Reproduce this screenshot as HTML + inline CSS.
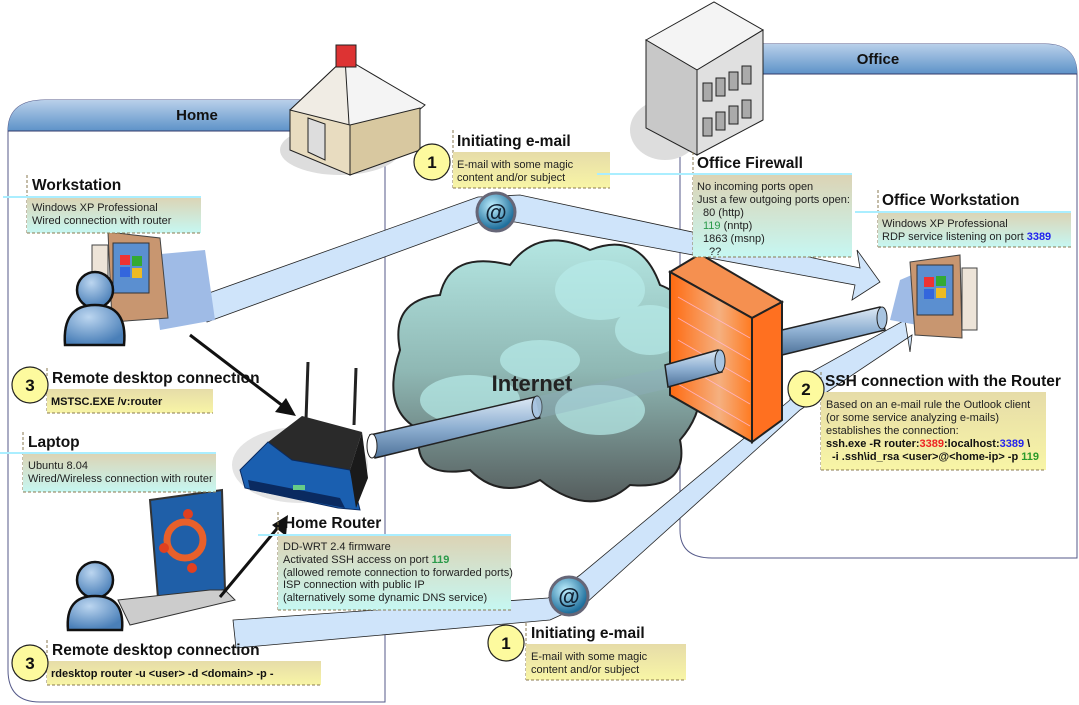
<!DOCTYPE html>
<html><head><meta charset="utf-8"><style>
html,body{margin:0;padding:0;background:#fff}
svg{display:block;font-family:"Liberation Sans",sans-serif}
.t{font-weight:bold;font-size:15.5px;fill:#111}
.s{font-size:11px;fill:#222}
.b{font-size:11px;font-weight:bold;fill:#111}
</style></head><body>
<svg width="1079" height="705" viewBox="0 0 1079 705" xmlns="http://www.w3.org/2000/svg">
<defs>
<linearGradient id="hdr" x1="0" y1="0" x2="0" y2="1"><stop offset="0" stop-color="#b9d0ea"/><stop offset="1" stop-color="#5d92c8"/></linearGradient>
<linearGradient id="box" x1="0" y1="0" x2="0" y2="1"><stop offset="0" stop-color="#dcd3b4"/><stop offset="1" stop-color="#c6f7f2"/></linearGradient>
<linearGradient id="ybox" x1="0" y1="0" x2="0" y2="1"><stop offset="0" stop-color="#e6dca8"/><stop offset="1" stop-color="#f8f5a6"/></linearGradient>
<linearGradient id="tube" x1="0" y1="0" x2="0" y2="1"><stop offset="0" stop-color="#dde9f5"/><stop offset="0.5" stop-color="#8fb0d2"/><stop offset="1" stop-color="#4f739a"/></linearGradient>
<linearGradient id="cloud" x1="0" y1="0" x2="0" y2="1"><stop offset="0" stop-color="#b4e6e2"/><stop offset="0.5" stop-color="#8fb8b4"/><stop offset="1" stop-color="#555d5d"/></linearGradient>
<radialGradient id="at" cx="0.4" cy="0.35" r="0.6"><stop offset="0" stop-color="#bff0ff"/><stop offset="1" stop-color="#1f6f9c"/></radialGradient>
<linearGradient id="fw" x1="0" y1="0" x2="1" y2="0"><stop offset="0" stop-color="#ff6a10"/><stop offset="0.6" stop-color="#f5b080"/><stop offset="1" stop-color="#ff7a20"/></linearGradient>
<radialGradient id="person" cx="0.4" cy="0.3" r="0.7"><stop offset="0" stop-color="#bcd6f0"/><stop offset="1" stop-color="#4a7fb8"/></radialGradient>
</defs>

<!-- containers -->
<path d="M8,131 L8,670 Q8,702 40,702 L385,702 L385,100 L45,100 Q8,100 8,131" fill="#fff" stroke="#555a8a" stroke-width="1"/>
<path d="M8,131 Q8,100 45,100 L385,100 L385,131 Z" fill="url(#hdr)"/>
<line x1="8" y1="131" x2="385" y2="131" stroke="#333a6a"/>
<text x="197" y="120" text-anchor="middle" font-weight="bold" font-size="15" fill="#111">Home</text>

<path d="M680,530 L680,44 L1045,44 Q1077,44 1077,75 L1077,558 L712,558 Q680,558 680,530" fill="#fff" stroke="#555a8a"/>
<path d="M680,74 L680,44 L1045,44 Q1077,44 1077,74 Z" fill="url(#hdr)"/>
<line x1="680" y1="74" x2="1077" y2="74" stroke="#333a6a"/>
<text x="878" y="64" text-anchor="middle" font-weight="bold" font-size="15" fill="#111">Office</text>

<!-- house -->
<ellipse cx="340" cy="150" rx="60" ry="25" fill="#ddd"/>
<polygon points="290,110 345,58 425,105 360,160" fill="#f4f4f4" stroke="#222"/>
<polygon points="290,110 345,58 350,140 300,135" fill="#f0ece4" stroke="#222"/>
<polygon points="290,110 300,140 355,170 350,130" fill="#e8dcc0" stroke="#222"/>
<polygon points="290,110 290,150 350,175 350,125" fill="#e8dcc0" stroke="#222"/>
<polygon points="350,125 420,108 420,150 350,175" fill="#d8c8a0" stroke="#222"/>
<polygon points="308,118 325,124 325,160 308,152" fill="#ddd" stroke="#222"/>
<rect x="336" y="45" width="20" height="22" fill="#d33" stroke="#222"/>

<!-- office building -->
<ellipse cx="665" cy="130" rx="35" ry="30" fill="#ddd"/>
<polygon points="646,40 714,2 763,30 697,70" fill="#f4f4f4" stroke="#222"/>
<polygon points="646,40 697,70 697,155 646,128" fill="#c8c8c8" stroke="#222"/>
<polygon points="697,70 763,30 763,120 697,155" fill="#e0e0e0" stroke="#222"/>
<g fill="#aaa" stroke="#222">
<rect x="703" y="83" width="9" height="18"/><rect x="716" y="78" width="9" height="18"/><rect x="729" y="72" width="9" height="18"/><rect x="742" y="66" width="9" height="18"/>
<rect x="703" y="118" width="9" height="18"/><rect x="716" y="112" width="9" height="18"/><rect x="729" y="106" width="9" height="18"/><rect x="742" y="100" width="9" height="18"/>
</g>

<!-- email bands -->
<polygon points="195,298 478,197 520,195 860,268 857,250 880,282 852,300 855,285 515,222 480,222 207,322" fill="#cfe4fa" stroke="#222" stroke-width="0.8"/>
<polygon points="233,620 548,598 580,575 790,400 790,384 905,320 910,352 912,335 800,410 585,604 550,620 236,648" fill="#cfe4fa" stroke="#222" stroke-width="0.8"/>

<!-- cloud -->
<path d="M400,350 Q390,300 440,295 Q450,250 510,265 Q540,225 590,250 Q640,230 660,285 Q700,300 690,350 Q715,400 680,440 Q690,490 630,485 Q590,520 540,480 Q500,500 470,470 Q410,480 420,430 Q380,410 400,350 Z" fill="url(#cloud)" stroke="#222" stroke-width="2"/>
<g fill="#b8ecea" opacity="0.7">
<ellipse cx="600" cy="290" rx="45" ry="30"/><ellipse cx="650" cy="330" rx="35" ry="25"/><ellipse cx="470" cy="400" rx="50" ry="25"/><ellipse cx="600" cy="410" rx="45" ry="25"/><ellipse cx="540" cy="360" rx="40" ry="20"/>
</g>
<text x="532" y="391" text-anchor="middle" font-weight="bold" font-size="22" fill="#222">Internet</text>

<!-- tube router->cloud -->
<polygon points="370,435 535,397 540,418 375,458" fill="url(#tube)" stroke="#222" stroke-width="1.5"/>
<ellipse cx="537" cy="407" rx="5" ry="11" fill="#a8c4e0" stroke="#222"/>
<polygon points="535,397 700,360 705,380 540,418" fill="#8fb0c0" opacity="0.35"/>
<ellipse cx="372" cy="446" rx="5" ry="12" fill="#fff" stroke="#222"/>

<!-- firewall -->
<polygon points="670,272 700,254 782,302 752,318" fill="#f59050" stroke="#222" stroke-width="2"/>
<polygon points="670,272 752,318 752,442 670,395" fill="url(#fw)" stroke="#222" stroke-width="2"/>
<polygon points="752,318 782,302 782,420 752,442" fill="#ff7020" stroke="#222" stroke-width="2"/>
<g stroke="#fbd" stroke-width="0.8" opacity="0.8">
<line x1="678" y1="297" x2="750" y2="338"/><line x1="678" y1="318" x2="750" y2="360"/><line x1="678" y1="340" x2="750" y2="382"/><line x1="678" y1="362" x2="750" y2="404"/><line x1="678" y1="384" x2="750" y2="426"/>
</g>
<polygon points="665,365 718,350 722,372 668,387" fill="url(#tube)" stroke="#222" stroke-width="1.5"/>
<ellipse cx="720" cy="361" rx="5" ry="11" fill="#a8c4e0" stroke="#222"/>
<polygon points="782,330 880,307 885,330 782,355" fill="url(#tube)" stroke="#222" stroke-width="1.5"/>
<ellipse cx="882" cy="318" rx="5" ry="11" fill="#a8c4e0" stroke="#222"/>

<!-- @ icons -->
<circle cx="496" cy="212" r="19" fill="url(#at)" stroke="#667" stroke-width="3"/>
<text x="496" y="220" text-anchor="middle" font-size="22" font-weight="bold" fill="#123">@</text>
<circle cx="569" cy="596" r="19" fill="url(#at)" stroke="#667" stroke-width="3"/>
<text x="569" y="604" text-anchor="middle" font-size="22" font-weight="bold" fill="#123">@</text>

<!-- workstation home -->
<path d="M150,255 L205,250 L215,320 L160,330 Z" fill="#9fbbe6"/>
<rect x="92" y="245" width="16" height="55" fill="#ede4d8" stroke="#444"/>
<path d="M108,232 L160,238 L168,318 L112,322 Z" fill="#c89670" stroke="#444"/>
<rect x="113" y="243" width="36" height="50" fill="#5b8fd0" stroke="#333"/>
<rect x="120" y="255" width="10" height="10" fill="#e33"/><rect x="132" y="256" width="10" height="10" fill="#3a3"/><rect x="120" y="267" width="10" height="10" fill="#36d"/><rect x="132" y="268" width="10" height="10" fill="#eb2"/>
<circle cx="95" cy="290" r="18" fill="url(#person)" stroke="#111" stroke-width="2.5"/>
<path d="M65,345 Q62,305 95,305 Q128,305 124,345 Z" fill="url(#person)" stroke="#111" stroke-width="2.5"/>

<!-- office workstation -->
<path d="M900,280 L935,265 L945,330 L890,320 Z" fill="#9fbbe6"/>
<path d="M910,262 L960,255 L962,338 L915,335 Z" fill="#c89670" stroke="#444"/>
<rect x="917" y="265" width="36" height="50" fill="#5b8fd0" stroke="#333"/>
<rect x="924" y="277" width="10" height="10" fill="#e33"/><rect x="936" y="276" width="10" height="10" fill="#3a3"/><rect x="924" y="289" width="10" height="10" fill="#36d"/><rect x="936" y="288" width="10" height="10" fill="#eb2"/>
<rect x="962" y="268" width="15" height="62" fill="#ede4d8" stroke="#444"/>

<!-- router -->
<line x1="308" y1="362" x2="306" y2="420" stroke="#222" stroke-width="3"/>
<line x1="356" y1="368" x2="354" y2="425" stroke="#222" stroke-width="3"/>
<ellipse cx="300" cy="465" rx="68" ry="38" fill="#e4e4e4"/>
<polygon points="268,442 302,416 362,432 350,470 292,460" fill="#2a2a2a"/>
<polygon points="240,470 268,442 292,460 350,470 360,510 338,508 245,488" fill="#1a5fb0" stroke="#0a2a60"/>
<polygon points="248,480 340,498 345,508 250,490" fill="#0a2a60"/>
<polygon points="350,470 362,432 368,478 356,508" fill="#1a1a1a"/>
<rect x="293" y="485" width="12" height="5" fill="#6c8"/>

<!-- laptop -->
<polygon points="150,500 222,490 225,590 158,598" fill="#1f5fa8" stroke="#333" stroke-width="2"/>
<circle cx="185" cy="540" r="18" fill="none" stroke="#e8602a" stroke-width="7"/>
<circle cx="188" cy="514" r="5" fill="#e04020"/><circle cx="164" cy="548" r="5" fill="#e04020"/><circle cx="192" cy="568" r="5" fill="#e04020"/>
<polygon points="118,600 210,590 225,590 235,600 130,625" fill="#ccc" stroke="#333"/>
<circle cx="95" cy="580" r="18" fill="url(#person)" stroke="#111" stroke-width="2.5"/>
<path d="M68,630 Q65,596 95,596 Q125,596 122,630 Z" fill="url(#person)" stroke="#111" stroke-width="2.5"/>

<!-- black arrows -->
<line x1="190" y1="335" x2="283" y2="406" stroke="#111" stroke-width="3"/>
<polygon points="296,416 275,412 286,398" fill="#111"/>
<line x1="220" y1="597" x2="280" y2="525" stroke="#111" stroke-width="3"/>
<polygon points="288,515 286,536 272,525" fill="#111"/>

<!-- text boxes -->
<g>
<line x1="27" y1="175" x2="27" y2="233" stroke="#8a7a50" stroke-dasharray="3,2"/>
<text x="32" y="190" class="t">Workstation</text>
<rect x="27" y="197" width="174" height="36" fill="url(#box)"/>
<line x1="3" y1="197" x2="201" y2="197" stroke="#aef" stroke-width="2"/>
<line x1="27" y1="233" x2="201" y2="233" stroke="#8a7a50" stroke-dasharray="3,2"/>
<text x="32" y="211" class="s">Windows XP Professional</text><text x="32" y="224" class="s">Wired connection with router</text>
</g>
<g>
<line x1="453" y1="130" x2="453" y2="188" stroke="#8a7a50" stroke-dasharray="3,2"/>
<text x="457" y="146" class="t">Initiating e-mail</text>
<rect x="453" y="152" width="157" height="36" fill="url(#ybox)"/>
<line x1="453" y1="188" x2="610" y2="188" stroke="#8a7a50" stroke-dasharray="3,2"/>
<text x="457" y="168" class="s">E-mail with some magic</text><text x="457" y="181" class="s">content and/or subject</text>
</g>
<g>
<line x1="693" y1="152" x2="693" y2="257" stroke="#8a7a50" stroke-dasharray="3,2"/>
<text x="697" y="168" class="t">Office Firewall</text>
<rect x="693" y="174" width="159" height="83" fill="url(#box)"/>
<line x1="597" y1="174" x2="852" y2="174" stroke="#aef" stroke-width="2"/>
<line x1="693" y1="257" x2="852" y2="257" stroke="#8a7a50" stroke-dasharray="3,2"/>
<text x="697" y="190" class="s">No incoming ports open</text><text x="697" y="203" class="s">Just a few outgoing ports open:</text>
<text x="703" y="216" class="s">80 (http)</text><text x="703" y="229" class="s"><tspan fill="#2a9a4a">119</tspan> (nntp)</text><text x="703" y="242" class="s">1863 (msnp)</text><text x="709" y="255" class="s">??</text>
</g>
<g>
<line x1="878" y1="190" x2="878" y2="247" stroke="#8a7a50" stroke-dasharray="3,2"/>
<text x="882" y="205" class="t">Office Workstation</text>
<rect x="878" y="212" width="193" height="35" fill="url(#box)"/>
<line x1="855" y1="212" x2="1071" y2="212" stroke="#aef" stroke-width="2"/>
<line x1="878" y1="247" x2="1071" y2="247" stroke="#8a7a50" stroke-dasharray="3,2"/>
<text x="882" y="227" class="s">Windows XP Professional</text><text x="882" y="240" class="s">RDP service listening on port <tspan fill="#22e" font-weight="bold">3389</tspan></text>
</g>
<g>
<line x1="47" y1="368" x2="47" y2="413" stroke="#8a7a50" stroke-dasharray="3,2"/>
<text x="52" y="383" class="t">Remote desktop connection</text>
<rect x="47" y="389" width="166" height="24" fill="url(#ybox)"/>
<line x1="47" y1="413" x2="213" y2="413" stroke="#8a7a50" stroke-dasharray="3,2"/>
<text x="51" y="405" class="b">MSTSC.EXE /v:router</text>
</g>
<g>
<line x1="23" y1="432" x2="23" y2="492" stroke="#8a7a50" stroke-dasharray="3,2"/>
<text x="28" y="447" class="t">Laptop</text>
<rect x="23" y="453" width="193" height="39" fill="url(#box)"/>
<line x1="0" y1="453" x2="216" y2="453" stroke="#aef" stroke-width="2"/>
<line x1="23" y1="492" x2="216" y2="492" stroke="#8a7a50" stroke-dasharray="3,2"/>
<text x="28" y="469" class="s">Ubuntu 8.04</text><text x="28" y="482" class="s">Wired/Wireless connection with router</text>
</g>
<g>
<line x1="278" y1="512" x2="278" y2="610" stroke="#8a7a50" stroke-dasharray="3,2"/>
<text x="284" y="528" class="t">Home Router</text>
<rect x="278" y="535" width="233" height="75" fill="url(#box)"/>
<line x1="258" y1="535" x2="511" y2="535" stroke="#aef" stroke-width="2"/>
<line x1="278" y1="610" x2="511" y2="610" stroke="#8a7a50" stroke-dasharray="3,2"/>
<text x="283" y="550" class="s">DD-WRT 2.4 firmware</text><text x="283" y="563" class="s">Activated SSH access on port <tspan fill="#2a9a4a" font-weight="bold">119</tspan></text>
<text x="283" y="576" class="s">(allowed remote connection to forwarded ports)</text><text x="283" y="588" class="s">ISP connection with public IP</text><text x="283" y="601" class="s">(alternatively some dynamic DNS service)</text>
</g>
<g>
<line x1="821" y1="372" x2="821" y2="470" stroke="#8a7a50" stroke-dasharray="3,2"/>
<text x="825" y="386" class="t">SSH connection with the Router</text>
<rect x="821" y="392" width="225" height="78" fill="url(#ybox)"/>
<line x1="821" y1="470" x2="1046" y2="470" stroke="#8a7a50" stroke-dasharray="3,2"/>
<text x="826" y="408" class="s">Based on an e-mail rule the Outlook client</text><text x="826" y="421" class="s">(or some service analyzing e-mails)</text><text x="826" y="434" class="s">establishes the connection:</text>
<text x="826" y="447" class="b">ssh.exe -R router:<tspan fill="#e22">3389</tspan>:localhost:<tspan fill="#22e">3389</tspan> \</text>
<text x="832" y="460" class="b">-i .ssh\id_rsa &lt;user&gt;@&lt;home-ip&gt; -p <tspan fill="#2a9a2a">119</tspan></text>
</g>
<g>
<line x1="47" y1="640" x2="47" y2="685" stroke="#8a7a50" stroke-dasharray="3,2"/>
<text x="52" y="655" class="t">Remote desktop connection</text>
<rect x="47" y="661" width="274" height="24" fill="url(#ybox)"/>
<line x1="47" y1="685" x2="321" y2="685" stroke="#8a7a50" stroke-dasharray="3,2"/>
<text x="51" y="677" class="b">rdesktop router -u &lt;user&gt; -d &lt;domain&gt; -p -</text>
</g>
<g>
<line x1="526" y1="623" x2="526" y2="680" stroke="#8a7a50" stroke-dasharray="3,2"/>
<text x="531" y="638" class="t">Initiating e-mail</text>
<rect x="526" y="644" width="160" height="36" fill="url(#ybox)"/>
<line x1="526" y1="680" x2="686" y2="680" stroke="#8a7a50" stroke-dasharray="3,2"/>
<text x="531" y="660" class="s">E-mail with some magic</text><text x="531" y="673" class="s">content and/or subject</text>
</g>

<!-- number circles -->
<g stroke="#222" stroke-width="1.2" fill="#fdfa9e">
<circle cx="432" cy="162" r="18"/><circle cx="30" cy="385" r="18"/><circle cx="806" cy="389" r="18"/><circle cx="30" cy="663" r="18"/><circle cx="506" cy="643" r="18"/>
</g>
<g font-weight="bold" font-size="17" text-anchor="middle" fill="#111">
<text x="432" y="168">1</text><text x="30" y="391">3</text><text x="806" y="395">2</text><text x="30" y="669">3</text><text x="506" y="649">1</text>
</g>
</svg>
</body></html>
